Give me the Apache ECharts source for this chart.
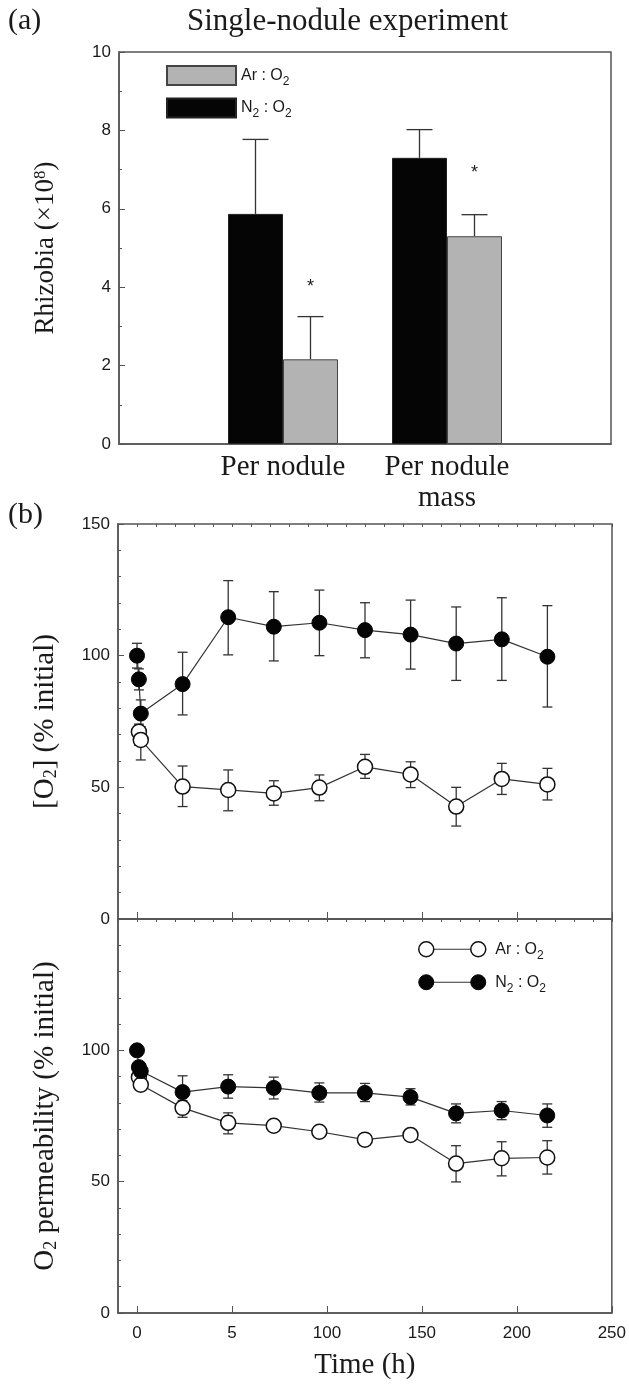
<!DOCTYPE html>
<html>
<head>
<meta charset="utf-8">
<script src="https://cdn.jsdelivr.net/npm/echarts@6/dist/echarts.min.js"></script>
<style>
html, body { margin: 0; padding: 0; background: #fff; }
#chart { width: 629px; height: 1386px; }
</style>
</head>
<body>
<div id="chart"></div>
<script>
// ---- panel (a): rhizobia counts ----
var groups = ['', 'Per nodule', 'Per nodule\nmass', ''];
var rhizN2 = [null, 5.87, 7.3, null];
var rhizN2Top = [null, 7.77, 8.02, null];   // upper end of error bar
var rhizAr = [null, 2.16, 5.3, null];
var rhizArTop = [null, 3.25, 5.85, null];
var starAt = [null, 4.0, 6.9, null];         // significance marks over Ar bars

// ---- panel (b) upper: [O2] ----
var o2TimeN2 = [0, 1, 2, 24, 48, 72, 96, 120, 144, 168, 192, 216];
var o2N2 = [100, 91, 78, 89.2, 114.6, 111, 112.5, 109.7, 108, 104.6, 106.2, 99.6];
var o2N2Hi = [104.7, 95, 83.2, 101.3, 128.5, 124.3, 124.9, 120.1, 121.1, 118.5, 122, 119];
var o2N2Lo = [95.3, 87, 73, 77.5, 100.3, 98, 100, 99.2, 94.9, 90.6, 90.6, 80.5];
var o2TimeAr = [1, 2, 24, 48, 72, 96, 120, 144, 168, 192, 216];
var o2Ar = [71.1, 68, 50.3, 49, 47.7, 49.9, 57.8, 54.9, 42.7, 53.2, 51.1];
var o2ArHi = [74, 71, 58.1, 56.6, 52.5, 54.7, 62.5, 59.7, 50, 59.1, 57.2];
var o2ArLo = [66, 60.4, 42.7, 41.1, 43.2, 44.9, 53.4, 49.9, 35.3, 47.3, 45.2];

// ---- panel (b) lower: O2 permeability ----
var permTimeN2 = [0, 1, 2, 24, 48, 72, 96, 120, 144, 168, 192, 216];
var permN2 = [100, 93.6, 92.1, 84.1, 86.2, 85.7, 83.8, 83.8, 82.2, 76, 77.1, 75.2];
var permN2Hi = [null, null, null, 90.3, 90.7, 89.8, 87.6, 87.4, 85.4, 79.6, 80.5, 79.6];
var permN2Lo = [null, null, null, 78.6, 81.8, 81.5, 80.3, 80.5, 79.2, 72.4, 73.6, 70.7];
var permTimeAr = [1, 2, 24, 48, 72, 96, 120, 144, 168, 192, 216];
var permAr = [89.8, 86.9, 78.1, 72.4, 71.3, 69, 66, 67.8, 56.9, 58.9, 59.2];
var permArHi = [null, null, 80.9, 76.2, null, null, null, null, 63.7, 65.2, 65.6];
var permArLo = [null, null, 74.5, 68.2, null, null, null, null, 49.9, 52.2, 52.9];

var timeTicks = [0, 50, 100, 150, 200, 250];
var timeTickLabels = ['0', '5', '100', '150', '200', '250'];

var chart = echarts.init(document.getElementById('chart'), null, { renderer: 'canvas' });

var SANS = 'Liberation Sans, Arial, sans-serif';
var SERIF = 'Liberation Serif, Times New Roman, serif';
var INK = '#1a1a1a';
var AXIS = '#555';
var BAR_W = 55;

function pairs(xs, ys) {
    return xs.map(function (x, i) { return [x, ys[i]]; });
}
function errData(xs, lo, hi) {
    var out = [];
    for (var i = 0; i < xs.length; i++) {
        if (hi[i] != null) out.push([xs[i], lo[i], hi[i]]);
    }
    return out;
}

function errRender(params, api) {
    var a = api.coord([api.value(0), api.value(2)]);
    var b = api.coord([api.value(0), api.value(1)]);
    var st = { stroke: '#333', lineWidth: 1.3 };
    var w = 5;
    return {
        type: 'group',
        children: [
            { type: 'line', shape: { x1: a[0], y1: a[1], x2: b[0], y2: b[1] }, style: st },
            { type: 'line', shape: { x1: a[0] - w, y1: a[1], x2: a[0] + w, y2: a[1] }, style: st },
            { type: 'line', shape: { x1: b[0] - w, y1: b[1], x2: b[0] + w, y2: b[1] }, style: st }
        ]
    };
}

// one-sided error bars on the bars, plus optional star above
function barErrRender(side) {
    return function (params, api) {
        var idx = api.value(0);
        var p0 = api.coord([idx, api.value(1)]);
        var p1 = api.coord([idx, api.value(2)]);
        var x = p0[0] + side * BAR_W / 2;
        var st = { stroke: '#333', lineWidth: 1.3 };
        var kids = [
            { type: 'line', shape: { x1: x, y1: p0[1], x2: x, y2: p1[1] }, style: st },
            { type: 'line', shape: { x1: x - 13, y1: p1[1], x2: x + 13, y2: p1[1] }, style: st }
        ];
        var s = api.value(3);
        if (!isNaN(s)) {
            var ps = api.coord([idx, s]);
            kids.push({
                type: 'text',
                style: { x: x, y: ps[1], text: '*', font: '18px ' + SANS, fill: INK, align: 'center', verticalAlign: 'middle' }
            });
        }
        return { type: 'group', children: kids };
    };
}

function barErrData(vals, tops, stars) {
    var out = [];
    for (var i = 0; i < vals.length; i++) {
        if (vals[i] != null) out.push([i, vals[i], tops[i], stars ? stars[i] : NaN]);
    }
    return out;
}

var subRich = {
    sub: { fontSize: 12, fontFamily: SANS, color: INK, verticalAlign: 'bottom', padding: [0, 0, -4, 0] }
};

function valueY(gridIndex, opts) {
    return Object.assign({
        type: 'value',
        gridIndex: gridIndex,
        nameLocation: 'middle',
        nameRotate: 90,
        axisLine: { show: true, onZero: false, lineStyle: { color: AXIS, width: 1.5 } },
        axisTick: { show: true, inside: true, length: 6, lineStyle: { color: AXIS } },
        minorTick: { show: true, length: 3, lineStyle: { color: AXIS } },
        splitLine: { show: false },
        axisLabel: { fontFamily: SANS, fontSize: 17, color: INK, margin: 8 }
    }, opts);
}

function timeMajor(gridIndex, showLabels) {
    return {
        type: 'value',
        gridIndex: gridIndex,
        min: -10, max: 250, interval: 10,
        axisLine: { show: true, onZero: false, lineStyle: { color: AXIS, width: 1.5 } },
        axisTick: { show: true, inside: true, length: 7, customValues: timeTicks, lineStyle: { color: AXIS } },
        splitLine: { show: false },
        axisLabel: showLabels ? {
            show: true, customValues: timeTicks, fontFamily: SANS, fontSize: 17, color: INK, margin: 12,
            formatter: function (v) { return timeTickLabels[timeTicks.indexOf(v)]; }
        } : { show: false }
    };
}
function timeMinor(gridIndex) {
    return {
        type: 'value',
        gridIndex: gridIndex,
        min: -10, max: 250, interval: 10,
        axisLine: { show: false, onZero: false },
        axisTick: { show: true, inside: true, length: 3, lineStyle: { color: AXIS } },
        splitLine: { show: false },
        axisLabel: { show: false }
    };
}

var option = {
    animation: false,
    backgroundColor: '#fff',
    grid: [
        { left: 119, top: 52, width: 492, height: 392, show: true, borderColor: AXIS, borderWidth: 1.5 },
        { left: 118, top: 524, width: 494, height: 395, show: true, borderColor: AXIS, borderWidth: 1.5 },
        { left: 118, top: 919, width: 494, height: 394, show: true, borderColor: AXIS, borderWidth: 1.5 }
    ],
    legend: {
        data: ['Ar : O2', 'N2 : O2'],
        orient: 'vertical',
        left: 161, top: 60,
        icon: 'rect',
        itemWidth: 69, itemHeight: 19, itemGap: 10,
        selectedMode: false,
        textStyle: { fontFamily: SANS, fontSize: 16, color: INK, rich: subRich },
        formatter: function (n) { return n.replace(/2/g, '{sub|2}'); }
    },
    xAxis: [
        {
            type: 'category', gridIndex: 0, data: groups, boundaryGap: false,
            axisLine: { show: true, lineStyle: { color: AXIS, width: 1.5 } },
            axisTick: { show: false },
            axisLabel: { fontFamily: SERIF, fontSize: 29, color: INK, margin: 8, lineHeight: 31, interval: 0 }
        },
        timeMajor(1, false),
        timeMinor(1),
        Object.assign(timeMajor(2, true), {
            name: 'Time (h)', nameLocation: 'middle', nameGap: 38,
            nameTextStyle: { fontFamily: SERIF, fontSize: 29, color: INK }
        }),
        timeMinor(2)
    ],
    yAxis: [
        valueY(0, {
            min: 0, max: 10, interval: 2, minorTick: { show: true, splitNumber: 2, length: 3, lineStyle: { color: AXIS } },
            name: 'Rhizobia (×10{sup|8})', nameGap: 60,
            nameTextStyle: { fontFamily: SERIF, fontSize: 27, color: INK,
                rich: { sup: { fontFamily: SERIF, fontSize: 17, color: INK, verticalAlign: 'top', padding: [0, 0, 8, 0] } } }
        }),
        valueY(1, {
            min: 0, max: 150, interval: 50, minorTick: { show: true, splitNumber: 5, length: 3, lineStyle: { color: AXIS } },
            name: '[O{sub|2}] (% initial)', nameGap: 58,
            nameTextStyle: { fontFamily: SERIF, fontSize: 29, color: INK,
                rich: { sub: { fontFamily: SERIF, fontSize: 18, color: INK, verticalAlign: 'bottom', padding: [8, 0, 0, 0] } } }
        }),
        valueY(2, {
            min: 0, max: 150, interval: 50, minorTick: { show: true, splitNumber: 5, length: 3, lineStyle: { color: AXIS } },
            name: 'O{sub|2} permeability (% initial)', nameGap: 58,
            nameTextStyle: { fontFamily: SERIF, fontSize: 29, color: INK,
                rich: { sub: { fontFamily: SERIF, fontSize: 18, color: INK, verticalAlign: 'bottom', padding: [8, 0, 0, 0] } } },
            axisLabel: { fontFamily: SANS, fontSize: 17, color: INK, margin: 8,
                formatter: function (v) { return v === 150 ? '' : v; } }
        })
    ],
    series: [
        // panel (a)
        {
            name: 'N2 : O2', type: 'bar', xAxisIndex: 0, yAxisIndex: 0,
            data: rhizN2, barWidth: BAR_W, barGap: '0%',
            itemStyle: { color: '#050505', borderColor: '#222', borderWidth: 1 }
        },
        {
            name: 'Ar : O2', type: 'bar', xAxisIndex: 0, yAxisIndex: 0,
            data: rhizAr, barWidth: BAR_W, barGap: '0%',
            itemStyle: { color: '#b3b3b3', borderColor: '#444', borderWidth: 1 }
        },
        {
            name: 'errN2bar', type: 'custom', xAxisIndex: 0, yAxisIndex: 0, z: 1,
            renderItem: barErrRender(-1), encode: { x: 0, y: [1, 2] },
            data: barErrData(rhizN2, rhizN2Top, null)
        },
        {
            name: 'errArbar', type: 'custom', xAxisIndex: 0, yAxisIndex: 0, z: 1,
            renderItem: barErrRender(1), encode: { x: 0, y: [1, 2, 3] },
            data: barErrData(rhizAr, rhizArTop, starAt)
        },
        // panel (b) upper
        {
            name: 'o2ArErr', type: 'custom', xAxisIndex: 1, yAxisIndex: 1, z: 1,
            renderItem: errRender, encode: { x: 0, y: [1, 2] },
            data: errData(o2TimeAr, o2ArLo, o2ArHi)
        },
        {
            name: 'o2N2Err', type: 'custom', xAxisIndex: 1, yAxisIndex: 1, z: 1,
            renderItem: errRender, encode: { x: 0, y: [1, 2] },
            data: errData(o2TimeN2, o2N2Lo, o2N2Hi)
        },
        {
            name: 'o2Ar', type: 'line', xAxisIndex: 1, yAxisIndex: 1, z: 3,
            data: pairs(o2TimeAr, o2Ar), symbol: 'circle', symbolSize: 15,
            lineStyle: { color: '#333', width: 1.2 },
            itemStyle: { color: '#fff', borderColor: '#111', borderWidth: 1.5 }
        },
        {
            name: 'o2N2', type: 'line', xAxisIndex: 1, yAxisIndex: 1, z: 3,
            data: pairs(o2TimeN2, o2N2), symbol: 'circle', symbolSize: 15,
            lineStyle: { color: '#333', width: 1.2 },
            itemStyle: { color: '#050505', borderColor: '#050505', borderWidth: 1 }
        },
        // panel (b) lower
        {
            name: 'permArErr', type: 'custom', xAxisIndex: 3, yAxisIndex: 2, z: 1,
            renderItem: errRender, encode: { x: 0, y: [1, 2] },
            data: errData(permTimeAr, permArLo, permArHi)
        },
        {
            name: 'permN2Err', type: 'custom', xAxisIndex: 3, yAxisIndex: 2, z: 1,
            renderItem: errRender, encode: { x: 0, y: [1, 2] },
            data: errData(permTimeN2, permN2Lo, permN2Hi)
        },
        {
            name: 'permAr', type: 'line', xAxisIndex: 3, yAxisIndex: 2, z: 3,
            data: pairs(permTimeAr, permAr), symbol: 'circle', symbolSize: 15,
            lineStyle: { color: '#333', width: 1.2 },
            itemStyle: { color: '#fff', borderColor: '#111', borderWidth: 1.5 }
        },
        {
            name: 'permN2', type: 'line', xAxisIndex: 3, yAxisIndex: 2, z: 3,
            data: pairs(permTimeN2, permN2), symbol: 'circle', symbolSize: 15,
            lineStyle: { color: '#333', width: 1.2 },
            itemStyle: { color: '#050505', borderColor: '#050505', borderWidth: 1 }
        }
    ],
    graphic: [
        { type: 'text', left: 8, top: 6, style: { text: '(a)', font: '30px ' + SERIF, fill: INK } },
        { type: 'text', left: 187, top: 6, style: { text: 'Single-nodule experiment', font: '31px ' + SERIF, fill: INK } },
        { type: 'text', left: 8, top: 500, style: { text: '(b)', font: '30px ' + SERIF, fill: INK } },
        // legend of panel (b), lower part
        {
            type: 'group', left: 418, top: 941,
            children: [
                { type: 'line', shape: { x1: 8, y1: 8, x2: 60, y2: 8 }, style: { stroke: '#333', lineWidth: 1.2 } },
                { type: 'circle', shape: { cx: 8, cy: 8, r: 7.5 }, style: { fill: '#fff', stroke: '#111', lineWidth: 1.5 } },
                { type: 'circle', shape: { cx: 60, cy: 8, r: 7.5 }, style: { fill: '#fff', stroke: '#111', lineWidth: 1.5 } },
                { type: 'text', x: 77, y: 8, style: { text: 'Ar : O{sub|2}', font: '16px ' + SANS, fill: INK, verticalAlign: 'middle', rich: subRich } },
                { type: 'line', shape: { x1: 8, y1: 41, x2: 60, y2: 41 }, style: { stroke: '#333', lineWidth: 1.2 } },
                { type: 'circle', shape: { cx: 8, cy: 41, r: 7.5 }, style: { fill: '#050505', stroke: '#050505', lineWidth: 1 } },
                { type: 'circle', shape: { cx: 60, cy: 41, r: 7.5 }, style: { fill: '#050505', stroke: '#050505', lineWidth: 1 } },
                { type: 'text', x: 77, y: 41, style: { text: 'N{sub|2} : O{sub|2}', font: '16px ' + SANS, fill: INK, verticalAlign: 'middle', rich: subRich } }
            ]
        }
    ]
};

chart.setOption(option);
</script>
</body>
</html>
